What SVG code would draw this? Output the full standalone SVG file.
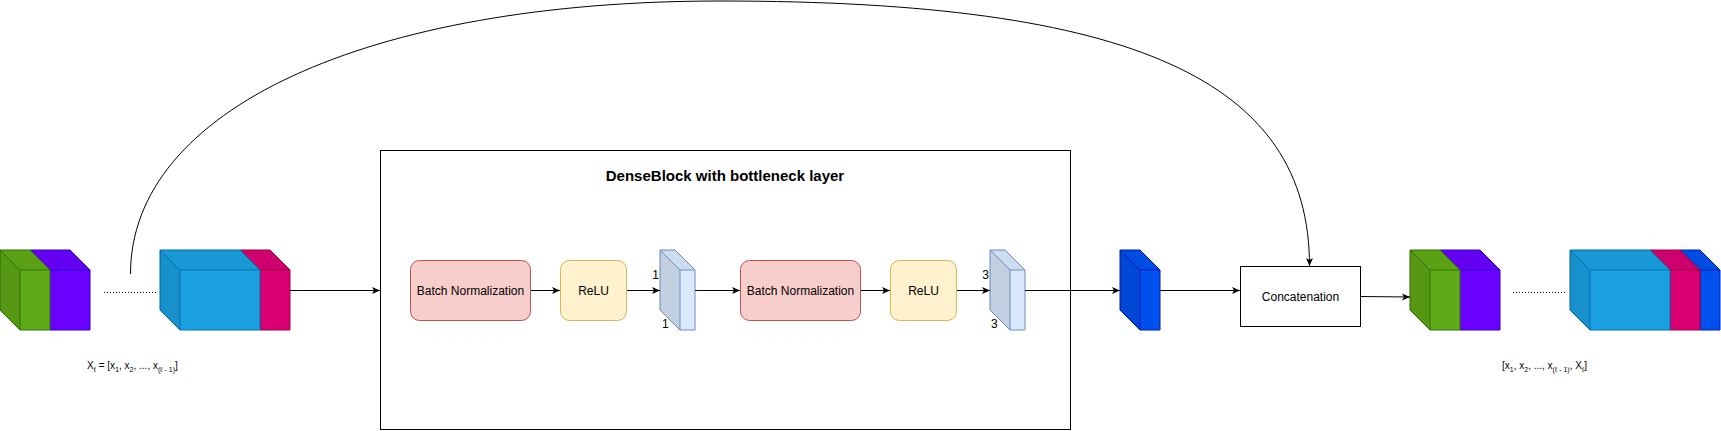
<svg xmlns="http://www.w3.org/2000/svg" width="1721" height="431" viewBox="0 0 1721 431">
<style>
text{font-family:"Liberation Sans",Arial,sans-serif;fill:#000;stroke:none}
.t12{font-size:12px}
.title{font-size:15px;font-weight:bold}
.lbl{font-size:10px}
.sub{font-size:7px}
.shade1{fill:#000;fill-opacity:0.1;stroke:none}
.shade2{fill:#000;fill-opacity:0.05;stroke:none}
.edge{fill:none;stroke:#000;stroke-width:1}
.inner{fill:none}
.green{fill:#60a917;stroke:#2d7600}
.purple{fill:#6a00ff;stroke:#3700cc}
.lblue{fill:#1ba1e2;stroke:#006eaf}
.magenta{fill:#d80073;stroke:#a50040}
.dblue{fill:#0050ef;stroke:#001dbc}
.slab{fill:#dae8fc;stroke:#6c8ebf}
.bn{fill:#f8cecc;stroke:#b85450}
.relu{fill:#fff2cc;stroke:#d6b656}
.dots{stroke:#000;stroke-width:1;stroke-dasharray:1 2;fill:none}
</style>
<defs>
<marker id="arr" markerUnits="userSpaceOnUse" markerWidth="9" markerHeight="8" viewBox="0 0 9 8" refX="8" refY="4" orient="auto">
<path d="M0,0.5 L8,4 L0,7.5 L2,4 Z" fill="#000" stroke="none"/>
</marker>
</defs>

<!-- Left input stack -->
<g id="in-purple" class="purple">
<path d="M30,250 L70,250 L90,270 L90,330 L50,330 L30,310 Z"/>
<path class="shade1" d="M30,250 L50,270 L50,330 L30,310 Z"/>
<path class="shade2" d="M30,250 L70,250 L90,270 L50,270 Z"/>
<path class="inner" d="M30,250 L50,270 L90,270 M50,270 L50,330"/>
</g>
<g id="in-green" class="green">
<path d="M0,250 L30,250 L50,270 L50,330 L20,330 L0,310 Z"/>
<path class="shade1" d="M0,250 L20,270 L20,330 L0,310 Z"/>
<path class="shade2" d="M0,250 L30,250 L50,270 L20,270 Z"/>
<path class="inner" d="M0,250 L20,270 L50,270 M20,270 L20,330"/>
</g>
<g id="in-dots"><line class="dots" x1="104" y1="292.5" x2="156" y2="292.5"/></g>
<g id="in-magenta" class="magenta">
<path d="M240,250 L270,250 L290,270 L290,330 L260,330 L240,310 Z"/>
<path class="shade1" d="M240,250 L260,270 L260,330 L240,310 Z"/>
<path class="shade2" d="M240,250 L270,250 L290,270 L260,270 Z"/>
<path class="inner" d="M240,250 L260,270 L290,270 M260,270 L260,330"/>
</g>
<g id="in-blue" class="lblue">
<path d="M160,250 L240,250 L260,270 L260,330 L180,330 L160,310 Z"/>
<path class="shade1" d="M160,250 L180,270 L180,330 L160,310 Z"/>
<path class="shade2" d="M160,250 L240,250 L260,270 L180,270 Z"/>
<path class="inner" d="M160,250 L180,270 L260,270 M180,270 L180,330"/>
</g>
<g id="in-label">
<text class="lbl" x="87" y="369">X<tspan class="sub" dy="3">ℓ</tspan><tspan dy="-3"> = [x</tspan><tspan class="sub" dy="3">1</tspan><tspan dy="-3">, x</tspan><tspan class="sub" dy="3">2</tspan><tspan dy="-3">, ..., x</tspan><tspan class="sub" dy="3">(ℓ - 1)</tspan><tspan dy="-3">]</tspan></text>
</g>

<!-- Dense block container -->
<g id="denseblock">
<rect x="380.5" y="150.5" width="690" height="279" fill="#fff" stroke="#000"/>
<text class="title" x="725" y="181" text-anchor="middle">DenseBlock with bottleneck layer</text>
</g>

<g id="bn1">
<rect class="bn" x="410.5" y="260.5" width="120" height="60" rx="9"/>
<text class="t12" x="470.5" y="294.5" text-anchor="middle">Batch Normalization</text>
</g>
<g id="relu1">
<rect class="relu" x="560.5" y="260.5" width="66" height="60" rx="9"/>
<text class="t12" x="593.5" y="294.5" text-anchor="middle">ReLU</text>
</g>
<g id="conv1" class="slab">
<path d="M660,250 L675,250 L695,270 L695,330 L680,330 L660,310 Z"/>
<path class="shade1" d="M660,250 L680,270 L680,330 L660,310 Z"/>
<path class="shade2" d="M660,250 L675,250 L695,270 L680,270 Z"/>
<path class="inner" d="M660,250 L680,270 L695,270 M680,270 L680,330"/>
<text class="t12" x="659" y="279" text-anchor="end">1</text>
<text class="t12" x="662" y="328">1</text>
</g>
<g id="bn2">
<rect class="bn" x="740.5" y="260.5" width="120" height="60" rx="9"/>
<text class="t12" x="800.5" y="294.5" text-anchor="middle">Batch Normalization</text>
</g>
<g id="relu2">
<rect class="relu" x="890.5" y="260.5" width="66" height="60" rx="9"/>
<text class="t12" x="923.5" y="294.5" text-anchor="middle">ReLU</text>
</g>
<g id="conv3" class="slab">
<path d="M990,250 L1005,250 L1025,270 L1025,330 L1010,330 L990,310 Z"/>
<path class="shade1" d="M990,250 L1010,270 L1010,330 L990,310 Z"/>
<path class="shade2" d="M990,250 L1005,250 L1025,270 L1010,270 Z"/>
<path class="inner" d="M990,250 L1010,270 L1025,270 M1010,270 L1010,330"/>
<text class="t12" x="989" y="279" text-anchor="end">3</text>
<text class="t12" x="991" y="328">3</text>
</g>

<g id="newfeature" class="dblue">
<path d="M1120,250 L1140,250 L1160,270 L1160,330 L1140,330 L1120,310 Z"/>
<path class="shade1" d="M1120,250 L1140,270 L1140,330 L1120,310 Z"/>
<path class="shade2" d="M1120,250 L1140,250 L1160,270 L1140,270 Z"/>
<path class="inner" d="M1120,250 L1140,270 L1160,270 M1140,270 L1140,330"/>
</g>

<g id="concat">
<rect x="1240.5" y="266.5" width="120" height="60" fill="#fff" stroke="#000"/>
<text class="t12" x="1300.5" y="300.5" text-anchor="middle">Concatenation</text>
</g>

<!-- Output stack -->
<g id="out-purple" class="purple">
<path d="M1440,250 L1480,250 L1500,270 L1500,330 L1460,330 L1440,310 Z"/>
<path class="shade1" d="M1440,250 L1460,270 L1460,330 L1440,310 Z"/>
<path class="shade2" d="M1440,250 L1480,250 L1500,270 L1460,270 Z"/>
<path class="inner" d="M1440,250 L1460,270 L1500,270 M1460,270 L1460,330"/>
</g>
<g id="out-green" class="green">
<path d="M1410,250 L1440,250 L1460,270 L1460,330 L1430,330 L1410,310 Z"/>
<path class="shade1" d="M1410,250 L1430,270 L1430,330 L1410,310 Z"/>
<path class="shade2" d="M1410,250 L1440,250 L1460,270 L1430,270 Z"/>
<path class="inner" d="M1410,250 L1430,270 L1460,270 M1430,270 L1430,330"/>
</g>
<g id="out-dots"><line class="dots" x1="1513" y1="292.5" x2="1566" y2="292.5"/></g>
<g id="out-dblue" class="dblue">
<path d="M1680,250 L1700,250 L1720,270 L1720,330 L1700,330 L1680,310 Z"/>
<path class="shade1" d="M1680,250 L1700,270 L1700,330 L1680,310 Z"/>
<path class="shade2" d="M1680,250 L1700,250 L1720,270 L1700,270 Z"/>
<path class="inner" d="M1680,250 L1700,270 L1720,270 M1700,270 L1700,330"/>
</g>
<g id="out-magenta" class="magenta">
<path d="M1650,250 L1680,250 L1700,270 L1700,330 L1670,330 L1650,310 Z"/>
<path class="shade1" d="M1650,250 L1670,270 L1670,330 L1650,310 Z"/>
<path class="shade2" d="M1650,250 L1680,250 L1700,270 L1670,270 Z"/>
<path class="inner" d="M1650,250 L1670,270 L1700,270 M1670,270 L1670,330"/>
</g>
<g id="out-blue" class="lblue">
<path d="M1570,250 L1650,250 L1670,270 L1670,330 L1590,330 L1570,310 Z"/>
<path class="shade1" d="M1570,250 L1590,270 L1590,330 L1570,310 Z"/>
<path class="shade2" d="M1570,250 L1650,250 L1670,270 L1590,270 Z"/>
<path class="inner" d="M1570,250 L1590,270 L1670,270 M1590,270 L1590,330"/>
</g>
<g id="out-label">
<text class="lbl" x="1502" y="369">[x<tspan class="sub" dy="3">1</tspan><tspan dy="-3">, x</tspan><tspan class="sub" dy="3">2</tspan><tspan dy="-3">, ..., x</tspan><tspan class="sub" dy="3">(ℓ - 1)</tspan><tspan dy="-3">, X</tspan><tspan class="sub" dy="3">ℓ</tspan><tspan dy="-3">]</tspan></text>
</g>

<!-- Connectors -->
<g id="connectors" class="edge">
<line x1="290" y1="290.5" x2="380" y2="290.5" marker-end="url(#arr)"/>
<line x1="531" y1="290.5" x2="560" y2="290.5" marker-end="url(#arr)"/>
<line x1="627" y1="290.5" x2="660" y2="290.5" marker-end="url(#arr)"/>
<line x1="695" y1="290.5" x2="740" y2="290.5" marker-end="url(#arr)"/>
<line x1="861" y1="290.5" x2="890" y2="290.5" marker-end="url(#arr)"/>
<line x1="957" y1="290.5" x2="990" y2="290.5" marker-end="url(#arr)"/>
<line x1="1025" y1="290.5" x2="1120" y2="290.5" marker-end="url(#arr)"/>
<line x1="1160" y1="290.5" x2="1240" y2="290.5" marker-end="url(#arr)"/>
<line x1="1361" y1="296.5" x2="1410" y2="297" marker-end="url(#arr)"/>
<path d="M130.5,274 C130.5,110 366,1 720,1 C1133,1 1309.5,80 1309.5,266" marker-end="url(#arr)"/>
</g>
</svg>
